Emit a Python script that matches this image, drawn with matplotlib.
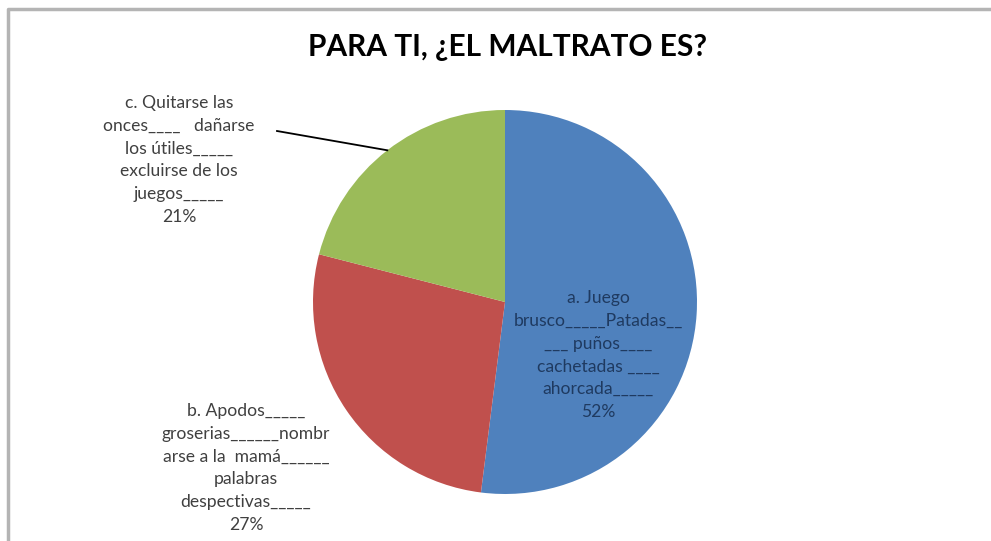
import numpy as np
import matplotlib
matplotlib.use("Agg")
import matplotlib.pyplot as plt
from matplotlib.lines import Line2D

title = "PARA TI, ¿EL MALTRATO ES?"
categories = [
    "a. Juego\nbrusco_____Patadas__\n___ puños____\ncachetadas ____\nahorcada_____",
    "b. Apodos_____\ngroserias______nombr\narse a la  mamá______\npalabras\ndespectivas_____",
    "c. Quitarse las\nonces____   dañarse\nlos útiles_____\nexcluirse de los\njuegos_____",
]
values = [52, 27, 21]
colors = ["#4F81BD", "#C0504D", "#9BBB59"]

plt.rcParams['font.family'] = ['Lato', 'DejaVu Sans']

W, H = 991, 541
fig = plt.figure(figsize=(W / 100, H / 100), dpi=100)
fig.patch.set_facecolor("white")

cx, cy, r = 505, 302, 192
ax = fig.add_axes([(cx - r) / W, (H - cy - r) / H, 2 * r / W, 2 * r / H])
wedges, _ = ax.pie(values, colors=colors, startangle=90, counterclock=False,
                   radius=1.0, wedgeprops=dict(linewidth=0))
ax.set_xlim(-1, 1)
ax.set_ylim(-1, 1)
ax.set_aspect("equal")
ax.axis("off")

def px(x, y):
    return ((x - cx) / r, (cy - y) / r)

label_pos = [px(598, 355), px(246, 468), px(179, 160)]
label_colors = ["#1F3A60", "#404040", "#404040"]
for cat, v, pos, col in zip(categories, values, label_pos, label_colors):
    ax.text(pos[0], pos[1], f"{cat}\n{v}%", ha="center", va="center",
            fontsize=12.6, color=col, linespacing=1.52, clip_on=False)

# leader line for slice c
theta = np.deg2rad(90 - 360 * (sum(values[:2]) + values[2] / 2) / sum(values))
x0, y0 = px(277, 131)
ax.add_line(Line2D([x0, np.cos(theta)], [y0, np.sin(theta)], color="black",
                   linewidth=1.3, clip_on=False))

fig.text(508 / W, 1 - 47 / H, title, ha="center", va="center",
         fontsize=21.5, fontweight="bold", color="black")

# chart-area border (left and top edges visible)
fig.add_artist(Line2D([8 / W, 8 / W, 1.0], [0, 1 - 9 / H, 1 - 9 / H],
                      transform=fig.transFigure, color="#B4B4B4", linewidth=2.5))

fig.savefig("out.png", dpi=100)
